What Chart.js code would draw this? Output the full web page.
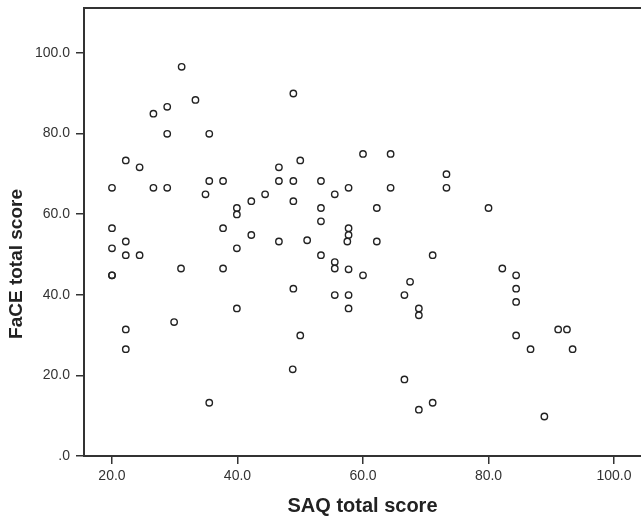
<!DOCTYPE html>
<html>
<head>
<meta charset="utf-8">
<script src="https://cdn.jsdelivr.net/npm/chart.js@4/dist/chart.umd.min.js"></script>
<style>
  html, body { margin: 0; padding: 0; background: #fff; }
  #wrap { width: 641px; height: 518px; position: relative; }
</style>
</head>
<body>
<div id="wrap"><canvas id="myChart"></canvas></div>
<script>
// SAQ total score (x) vs FaCE total score (y)
const saqScores = [
  31.1, 33.3, 28.8, 26.6, 28.8, 35.5, 22.2, 48.9, 50.0, 60.0,
  64.4, 24.4, 20.0, 26.6, 28.8, 35.5, 37.7, 34.9, 46.6, 46.6,
  44.4, 42.2, 39.9, 39.9, 20.0, 37.7, 42.2, 22.2, 20.0, 39.9,
  46.6, 22.2, 24.4, 31.0, 37.7, 20.0, 20.0, 39.9, 73.3, 48.9,
  53.3, 55.5, 57.7, 64.4, 73.3, 48.9, 53.3, 62.2, 53.3, 57.7,
  57.7, 51.1, 57.5, 62.2, 53.3, 71.1, 55.5, 55.5, 57.7, 60.0,
  67.5, 48.9, 55.5, 57.7, 66.6, 57.7, 68.9, 68.9, 80.0, 82.2,
  84.4, 84.4, 84.4, 22.2, 22.2, 29.9, 35.5, 50.0, 48.8, 66.6,
  71.1, 68.9, 84.4, 86.7, 91.1, 92.5, 93.4, 88.9
];
const faceScores = [
  96.5, 88.3, 86.6, 84.9, 79.9, 79.9, 73.3, 89.9, 73.3, 74.9,
  74.9, 71.6, 66.5, 66.5, 66.5, 68.2, 68.2, 64.9, 71.6, 68.2,
  64.9, 63.2, 61.5, 59.9, 56.5, 56.5, 54.8, 53.2, 51.5, 51.5,
  53.2, 49.8, 49.8, 46.5, 46.5, 44.8, 44.8, 36.6, 69.9, 68.2,
  68.2, 64.9, 66.5, 66.5, 66.5, 63.2, 61.5, 61.5, 58.2, 56.5,
  54.8, 53.5, 53.2, 53.2, 49.8, 49.8, 48.1, 46.5, 46.3, 44.8,
  43.2, 41.5, 39.9, 39.9, 39.9, 36.6, 36.6, 34.9, 61.5, 46.5,
  44.8, 41.5, 38.2, 31.4, 26.5, 33.2, 13.2, 29.9, 21.5, 19.0,
  13.2, 11.5, 29.9, 26.5, 31.4, 31.4, 26.5, 9.8
];
const xTicks = [20, 40, 60, 80, 100];
const yTicks = [0, 20, 40, 60, 80, 100];
const xTitle = "SAQ total score";
const yTitle = "FaCE total score";

const points = saqScores.map((x, i) => ({ x: x, y: faceScores[i] }));

const fmt = (v) => (v === 0 ? ".0" : v.toFixed(1));

// top border of the frame and the rotated y title
const framePlugin = {
  id: "frame",
  afterDraw(chart) {
    const { ctx, chartArea, height } = chart;
    ctx.save();
    ctx.strokeStyle = "#333";
    ctx.lineWidth = 2;
    ctx.beginPath();
    ctx.moveTo(chartArea.left, chartArea.top);
    ctx.lineTo(chartArea.right, chartArea.top);
    ctx.stroke();

    ctx.translate(17, height / 2 + 5);
    ctx.rotate(-Math.PI / 2);
    ctx.font = "bold 19px 'Liberation Sans', Arial, sans-serif";
    ctx.fillStyle = "#222";
    ctx.textAlign = "center";
    ctx.textBaseline = "middle";
    ctx.fillText(yTitle, 0, 0);
    ctx.restore();
  },
};

new Chart(document.getElementById("myChart"), {
  type: "scatter",
  data: {
    datasets: [
      {
        data: points,
        pointStyle: "circle",
        pointRadius: 3.2,
        pointBackgroundColor: "rgba(255,255,255,0)",
        pointBorderColor: "#222",
        pointBorderWidth: 1.4,
        pointHoverRadius: 3.2,
      },
    ],
  },
  options: {
    responsive: true,
    maintainAspectRatio: false,
    animation: false,
    events: [],
    layout: { autoPadding: false, padding: { top: 8, right: 0, left: 0, bottom: 0 } },
    plugins: { legend: { display: false }, tooltip: { enabled: false } },
    scales: {
      x: {
        type: "linear",
        min: 15.54,
        max: 104.3,
        afterBuildTicks: (scale) => {
          scale.ticks = xTicks.map((v) => ({ value: v }));
        },
        afterFit: (scale) => {
          scale.height = 62;
          scale.paddingLeft = 0;
          scale.paddingRight = 0;
        },
        ticks: {
          callback: fmt,
          color: "#333",
          padding: 4,
          maxRotation: 0,
          font: { family: "'Liberation Sans', Arial, sans-serif", size: 14 },
        },
        grid: {
          display: true,
          drawOnChartArea: false,
          drawTicks: true,
          tickLength: 8,
          color: "#333",
          lineWidth: 1.5,
        },
        border: { display: true, color: "#333", width: 2 },
        title: {
          display: true,
          text: xTitle,
          color: "#222",
          padding: { top: 0, bottom: 0 },
          font: { family: "'Liberation Sans', Arial, sans-serif", size: 20, weight: "bold" },
        },
      },
      y: {
        type: "linear",
        min: 0,
        max: 111.1,
        afterBuildTicks: (scale) => {
          scale.ticks = yTicks.map((v) => ({ value: v }));
        },
        afterFit: (scale) => {
          scale.width = 84;
          scale.paddingTop = 0;
          scale.paddingBottom = 0;
        },
        ticks: {
          callback: fmt,
          color: "#333",
          padding: 6,
          font: { family: "'Liberation Sans', Arial, sans-serif", size: 14 },
        },
        grid: {
          display: true,
          drawOnChartArea: false,
          drawTicks: true,
          tickLength: 8,
          color: "#333",
          lineWidth: 1.5,
        },
        border: { display: true, color: "#333", width: 2 },
      },
    },
  },
  plugins: [framePlugin],
});
</script>
</body>
</html>
